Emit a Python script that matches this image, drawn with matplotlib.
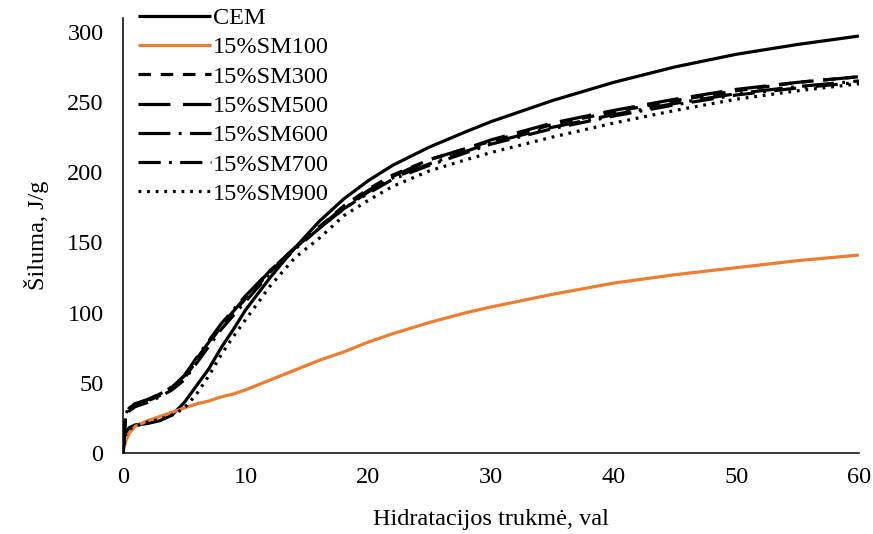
import matplotlib
matplotlib.use("Agg")
import matplotlib.pyplot as plt

plt.rcParams['font.family'] = ['Liberation Serif', 'DejaVu Serif']
plt.rcParams['lines.scale_dashes'] = False

# Hydration time, h
t = [0, 0.2, 0.5, 1, 2, 3, 4, 5, 6, 7, 8, 9, 10, 12, 14, 16, 18, 20, 22,
     25, 28, 30, 35, 40, 45, 50, 55, 60]

cem = [0, 14, 18, 20, 21, 23, 27, 36, 48, 60, 75, 88, 102, 125, 146, 165, 181,
       194, 205, 218, 229, 236, 251, 264, 275, 284, 291, 297]
sm100 = [0, 8, 14, 19, 23, 26, 29, 32, 35, 37, 40, 42, 45, 52, 59, 66, 72,
         79, 85, 93, 100, 104, 113, 121, 127, 132, 137, 141]
sm300 = [0, 25, 31, 34, 37, 41, 46, 53, 66, 78, 90, 100, 110, 129, 146, 161,
         176, 188, 198, 209, 217, 222, 234, 243, 251, 258, 264, 268]
sm500 = [0, 26, 32, 35, 38, 42, 47, 55, 67, 79, 91, 101, 111, 130, 146, 161,
         175, 187, 197, 209, 217, 223, 235, 244, 252, 259, 264, 268]
sm600 = [0, 27, 33, 35, 38, 42, 47, 55, 68, 80, 92, 102, 112, 130, 146, 160,
         174, 186, 196, 206, 215, 221, 232, 241, 249, 256, 261, 265]
sm700 = [0, 24, 30, 33, 36, 40, 45, 52, 64, 76, 88, 98, 108, 128, 145, 160,
         174, 185, 195, 205, 214, 220, 231, 240, 248, 255, 260, 264]
sm900 = [0, 13, 17, 19, 22, 24, 27, 32, 42, 55, 70, 83, 95, 119, 139, 153,
         169, 180, 190, 201, 209, 214, 225, 235, 244, 252, 258, 263]

labels = ['CEM', '15%SM100', '15%SM300', '15%SM500', '15%SM600', '15%SM700', '15%SM900']
series = [cem, sm100, sm300, sm500, sm600, sm700, sm900]
colors = ['black', '#ED7D31', 'black', 'black', 'black', 'black', 'black']
dashes = [None, None, (9, 7), (23, 9), (23, 6, 2, 6), (16, 6, 2, 6), (2, 4.2)]

fig = plt.figure(figsize=(8.73, 5.34), dpi=100)
ax = fig.add_axes([0.1409, 0.1517, 0.843, 0.815])

for y, lab, c, d in zip(series, labels, colors, dashes):
    line, = ax.plot(t, y, color=c, lw=2.3, label=lab, solid_capstyle='butt',
                    dash_capstyle='butt')
    if d is not None:
        line.set_dashes(d)

ax.set_xlim(0, 60)
ax.set_ylim(0, 310)
ax.set_xticks([0, 10, 20, 30, 40, 50, 60])
ax.set_yticks([0, 50, 100, 150, 200, 250, 300])
for s in ['top', 'right']:
    ax.spines[s].set_visible(False)
for s in ['left', 'bottom']:
    ax.spines[s].set_linewidth(1.1)
    ax.spines[s].set_color('black')
ax.tick_params(axis='both', length=0, labelsize=17.5)
ax.tick_params(axis='x', pad=10)
ax.tick_params(axis='y', pad=14)
ax.set_xlabel('Hidratacijos trukmė, val', fontsize=17.5, labelpad=15)
ax.set_ylabel('Šiluma, J/g', fontsize=17.5, labelpad=13)

leg = ax.legend(loc='upper left', bbox_to_anchor=(0.0, 1.058), frameon=False,
                fontsize=17.5, handlelength=3.0, handletextpad=0.1,
                labelspacing=0.3, borderaxespad=0.2)

fig.savefig('out.png', dpi=100)
